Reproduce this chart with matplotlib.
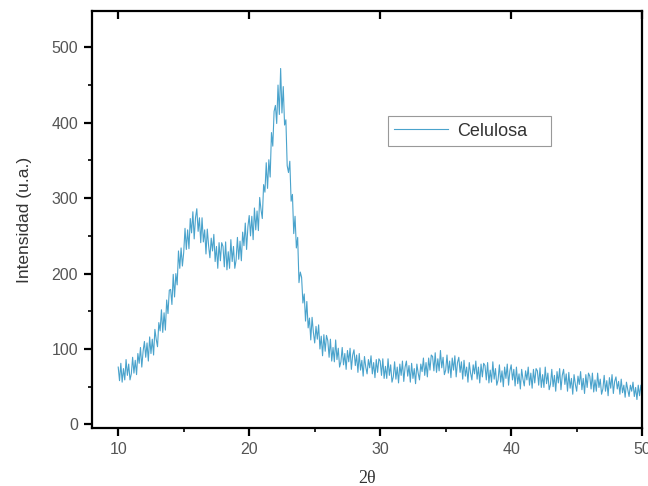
import matplotlib

matplotlib.use("Agg")
import matplotlib.pyplot as plt
import numpy as np
from matplotlib.ticker import MultipleLocator

# Intensity, one row per degree (10.0 ... 49.9 in 0.1 steps), then 50.0
INTENSITY = [
    76, 58, 81, 56, 74, 59, 86, 65, 80, 59,
    67, 89, 68, 85, 66, 94, 81, 102, 76, 97,
    110, 89, 108, 84, 116, 94, 113, 92, 126, 113,
    103, 135, 124, 152, 122, 148, 125, 165, 147, 178,
    179, 159, 199, 169, 200, 185, 230, 207, 234, 210,
    228, 260, 232, 258, 233, 273, 254, 282, 246, 274,
    286, 256, 274, 241, 274, 242, 258, 226, 259, 237,
    221, 247, 230, 252, 216, 236, 207, 241, 217, 241,
    236, 209, 242, 205, 229, 207, 245, 216, 236, 207,
    218, 248, 219, 243, 217, 255, 237, 267, 232, 262,
    277, 250, 276, 245, 287, 258, 283, 257, 301, 285,
    273, 318, 308, 347, 313, 351, 328, 387, 369, 415,
    423, 399, 450, 411, 472, 413, 448, 397, 404, 343,
    334, 349, 296, 305, 253, 276, 234, 248, 188, 202,
    195, 161, 173, 137, 163, 128, 141, 112, 142, 122,
    108, 130, 113, 132, 100, 117, 91, 119, 97, 118,
    111, 89, 113, 84, 102, 83, 112, 86, 101, 76,
    83, 102, 79, 94, 73, 98, 83, 101, 73, 92,
    99, 78, 92, 69, 94, 72, 85, 64, 90, 76,
    67, 86, 75, 91, 67, 82, 62, 86, 69, 87,
    84, 65, 87, 61, 77, 61, 87, 65, 79, 56,
    63, 83, 60, 76, 55, 80, 65, 84, 57, 76,
    84, 64, 78, 56, 81, 61, 74, 54, 80, 68,
    59, 80, 70, 88, 65, 82, 63, 88, 72, 92,
    90, 71, 95, 69, 87, 71, 98, 75, 89, 66,
    72, 92, 68, 84, 62, 88, 72, 91, 63, 82,
    89, 69, 83, 60, 85, 64, 76, 56, 82, 68,
    59, 79, 67, 84, 60, 76, 55, 80, 63, 81,
    78, 59, 82, 55, 72, 56, 83, 60, 74, 52,
    59, 79, 56, 71, 50, 76, 61, 80, 52, 71,
    79, 59, 73, 51, 76, 54, 67, 47, 73, 60,
    51, 71, 59, 76, 52, 68, 48, 73, 55, 74,
    71, 52, 75, 49, 66, 49, 76, 54, 68, 46,
    53, 73, 50, 65, 44, 70, 55, 74, 46, 65,
    73, 53, 67, 44, 69, 48, 61, 40, 66, 53,
    44, 64, 53, 70, 46, 61, 41, 66, 49, 68,
    64, 47, 68, 43, 59, 44, 68, 49, 60, 40,
    47, 65, 44, 58, 38, 62, 48, 66, 41, 57,
    63, 47, 57, 40, 60, 42, 52, 36, 56, 46,
    37, 52, 44, 56, 37, 49, 33, 52, 38, 52,
    38,
]
TWO_THETA = np.linspace(10, 50, len(INTENSITY))
X_TICKS = [10, 20, 30, 40, 50]
Y_TICKS = [0, 100, 200, 300, 400, 500]

LINE_COLOR = "#4aa3cc"
TICK_COLOR = "#555555"


def main() -> None:
    plt.rcParams.update({"font.family": ["Liberation Sans", "DejaVu Sans"]})

    fig = plt.figure(figsize=(6.48, 4.86), dpi=100)
    ax = fig.add_axes([0.142, 0.119, 0.849, 0.858])

    ax.plot(TWO_THETA, INTENSITY, color=LINE_COLOR, linewidth=0.8, label="Celulosa")

    ax.set_xlim(8, 50)
    ax.set_ylim(-5, 548)
    ax.set_xticks(X_TICKS)
    ax.set_yticks(Y_TICKS)
    ax.xaxis.set_minor_locator(MultipleLocator(5))
    ax.yaxis.set_minor_locator(MultipleLocator(50))

    for side in ax.spines.values():
        side.set_linewidth(1.6)

    ax.tick_params(axis="both", which="major", direction="out", length=6, width=1.6,
                   labelsize=11.5, labelcolor=TICK_COLOR, pad=4)
    ax.tick_params(axis="both", which="minor", direction="out", length=3, width=1.2)
    ax.tick_params(axis="x", which="major", top=True, labeltop=False)
    ax.tick_params(axis="x", which="minor", top=False)

    # top ticks point inward while bottom ones point out
    for tick in ax.xaxis.get_major_ticks():
        tick.tick2line.set_marker(3)
        tick.tick2line.set_markersize(6)

    ax.set_xlabel("2θ", fontsize=13, family=["Liberation Serif", "DejaVu Serif"],
                  color="#333333", labelpad=9)
    ax.set_ylabel("Intensidad (u.a.)", fontsize=12.5, color="#333333", labelpad=14)

    leg = ax.legend(loc="upper left", bbox_to_anchor=(0.538, 0.68, 0.296, 0.068),
                    mode="expand", borderaxespad=0, fontsize=13, handlelength=3.0,
                    handletextpad=0.5, fancybox=False, framealpha=1, borderpad=0.35,
                    labelcolor="#333333")
    leg.get_frame().set_edgecolor("#999999")
    leg.get_frame().set_linewidth(0.8)

    fig.savefig("out.png", dpi=100)
    plt.close(fig)


if __name__ == "__main__":
    main()
